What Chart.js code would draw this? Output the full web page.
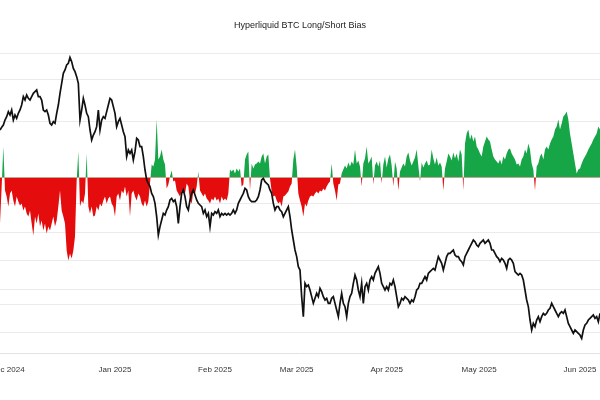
<!DOCTYPE html>
<html><head><meta charset="utf-8">
<script src="https://cdn.jsdelivr.net/npm/chart.js@4.4.1/dist/chart.umd.min.js"></script>
<style>html,body{margin:0;padding:0;background:#fff;overflow:hidden}#wrap{position:relative;width:600px;height:400px}</style>
</head><body><div id="wrap"><canvas id="c" width="600" height="400"></canvas></div>
<script>
// Sample index along the time axis (0..360), one sample every ~10 hours
const monthLabels = ['Dec 2024','Jan 2025','Feb 2025','Mar 2025','Apr 2025','May 2025','Jun 2025'];
const monthTickPos = [4.5, 69, 129, 178, 232, 287.5, 348];

// BTC price (USD)
const btcPrice = [
100000,100400,100750,101500,102000,102750,102250,103000,101500,102250,
101750,102500,103000,103750,105000,104500,105250,104750,104500,105000,
105500,105750,106000,105000,105000,104500,103000,102750,103000,102250,
101000,100750,101250,101000,102500,103750,105500,107000,108500,109000,
109750,110000,110900,110250,109250,108750,108000,107000,101500,103000,
104750,103750,102500,102000,100000,98500,99250,99750,100500,103000,
100000,101500,102000,101750,102750,103750,104750,104500,103500,102500,
100500,101250,101750,100750,99750,99000,96000,97000,96500,97000,
95500,96750,98750,98500,97500,97500,96000,94000,92500,92000,
91500,90500,90000,89000,87000,84250,85500,86500,87500,87250,
88000,88500,89500,89750,89250,89500,88500,86000,88500,90500,
91000,90000,88500,88000,89500,90500,91000,90250,89500,89000,
88750,88500,87500,88000,87000,87500,85500,87500,87250,87750,
87500,88000,87000,87500,87250,87500,87250,87500,87250,87500,
88000,87500,88000,89000,89500,90000,90500,91250,91000,90000,
89500,89250,89250,89250,89500,90000,91000,92500,92750,92250,
92000,91750,91000,90500,89000,88000,88500,88500,88000,87750,
87000,87500,88000,88500,87000,85000,83500,82000,81000,79500,
79000,75000,72000,77000,76500,76750,76000,75000,74000,74750,
75500,75000,76250,75750,75000,74500,74750,74000,74000,74750,
75000,74000,73000,72000,74000,75500,74000,73500,72000,74000,
75000,75500,77000,78250,77500,76000,75000,77000,74000,76500,
77000,76000,77500,78000,77500,78500,79000,79500,78500,77000,
76500,76000,76500,76000,77000,76750,77500,76500,75000,73500,
74000,74750,74500,75000,74750,74500,74000,74500,74250,75000,
76000,76250,77000,77000,77500,78000,77500,78500,78750,79000,
79250,79000,80000,81000,80500,80000,79000,80000,81000,81500,
81500,81750,82000,81250,81000,81000,80500,80250,79750,81000,
81500,82000,82500,83000,83500,83250,82750,82500,83000,83250,
83500,83000,83250,83500,83000,82000,82000,81500,81000,80750,
80250,80750,80500,80000,79250,80500,80750,80500,80000,78750,
78500,78250,78500,78250,77500,76000,74500,73500,71500,70000,
71000,70500,71500,72000,71250,72000,72500,72250,72500,73000,
73250,74000,73500,73000,72500,72000,72500,72750,72500,73000,
72000,71000,70500,70000,69500,70000,69750,69500,69250,68750,
70000,70750,71000,71500,71750,72000,72250,71750,72000,71250,72500
];

// Net long/short bias (USD millions, + long / - short)
const longShortBias = [
-46,-9,31,-13,-19,-29,-16,-13,-23,-29,
-19,-24,-28,-26,-33,-29,-36,-39,-33,-46,
-58,-39,-46,-36,-49,-43,-53,-46,-56,-49,
-53,-46,-39,-49,-43,-29,-13,-33,-39,-46,
-73,-83,-76,-81,-73,-59,-3,26,-29,-23,
-26,-16,24,-29,-36,-29,-39,-38,-29,-33,
-26,-29,-23,-19,-26,-21,-19,-26,-29,-39,
-19,-16,-23,-13,-16,-9,-19,-13,-39,-16,
-13,-19,-23,-16,-19,-26,-29,-23,-29,-24,
-6,13,11,18,58,18,21,28,18,13,
-11,-7,1,7,-4,-3,-13,-16,-19,-14,
-13,-16,-6,-9,-23,-26,-14,-16,-9,6,
-13,-16,-19,-16,-21,-23,-26,-21,-23,-19,
-23,-21,-26,-19,-23,-21,-23,-16,8,6,
8,4,9,6,9,-9,-7,18,23,26,
-13,14,9,13,14,16,14,21,24,14,
21,23,-1,-14,-19,-18,-23,-26,-24,-29,
-19,-18,-16,-14,-9,-6,18,28,11,-16,
-23,-29,-39,-26,-29,-23,-19,-18,-19,-16,
-14,-16,-13,-14,-11,-13,-9,-6,-4,14,
-6,-13,-23,-7,-6,4,8,12,9,15,
11,16,13,28,14,17,11,-9,14,19,
31,14,17,21,-7,12,16,11,17,-6,
13,21,10,19,23,12,-9,16,9,-13,
6,10,14,11,21,25,17,12,16,20,
28,12,-4,15,10,14,17,12,13,28,
19,13,20,12,15,11,-13,9,16,24,
21,17,25,19,24,16,28,23,-13,34,
44,48,38,43,36,41,31,28,24,21,
31,36,41,38,36,28,21,18,16,14,
18,13,21,18,24,28,29,24,21,18,
13,14,11,18,21,28,24,34,28,14,
8,-13,11,14,21,24,18,28,31,28,
34,38,41,48,51,58,48,54,61,63,
66,58,44,34,24,14,4,8,9,14,
18,21,24,28,31,34,38,41,44,51,48
];

// Price-axis gridline values
const priceGrid = [69650, 73850, 76150, 80400, 84600, 89000, 92875, 101350, 107600, 111550];

const FONT = "'Liberation Sans', Arial, Helvetica, sans-serif";

new Chart(document.getElementById('c'), {
  type: 'line',
  data: {
    datasets: [
      {
        label: 'BTC Price',
        data: btcPrice.map((v, i) => ({ x: i, y: v })),
        yAxisID: 'y',
        borderColor: '#111111',
        borderWidth: 1.7,
        pointRadius: 0,
        tension: 0,
        fill: false,
        order: 0
      },
      {
        label: 'Long/Short Bias',
        data: longShortBias.map((v, i) => ({ x: i, y: v })),
        yAxisID: 'y1',
        borderWidth: 0,
        borderColor: 'rgba(0,0,0,0)',
        pointRadius: 0,
        tension: 0,
        fill: { target: 'origin', above: 'rgb(22,166,72)', below: 'rgb(228,12,12)' },
        order: 1
      }
    ]
  },
  options: {
    responsive: false,
    animation: false,
    events: [],
    layout: { padding: { left: 0, right: 0, top: 0, bottom: 21.4 } },
    plugins: {
      legend: { display: false },
      tooltip: { enabled: false },
      title: {
        display: true,
        text: 'Hyperliquid BTC Long/Short Bias',
        color: '#222222',
        font: { size: 9, family: FONT, weight: 'normal' },
        padding: { top: 20.6, bottom: 21.6 }
      }
    },
    scales: {
      x: {
        type: 'linear',
        min: 0,
        max: 360,
        grid: { display: false },
        border: { display: true, color: '#e2e2e2' },
        ticks: {
          autoSkip: false,
          maxRotation: 0,
          padding: 4,
          color: '#333333',
          font: { size: 8, family: FONT },
          callback: (v, i) => monthLabels[i]
        },
        afterBuildTicks: s => { s.ticks = monthTickPos.map(v => ({ value: v })); },
        afterFit: s => { s.paddingLeft = 0; s.paddingRight = 0; }
      },
      y: {
        position: 'left',
        min: 66550,
        max: 111550,
        ticks: { display: false },
        border: { display: false },
        grid: { color: '#ebebeb', drawTicks: false, lineWidth: 1 },
        afterBuildTicks: s => { s.ticks = priceGrid.map(v => ({ value: v })); }
      },
      y1: {
        position: 'right',
        display: false,
        min: -175.5,
        max: 124.5
      }
    }
  }
});
</script>
</body></html>
